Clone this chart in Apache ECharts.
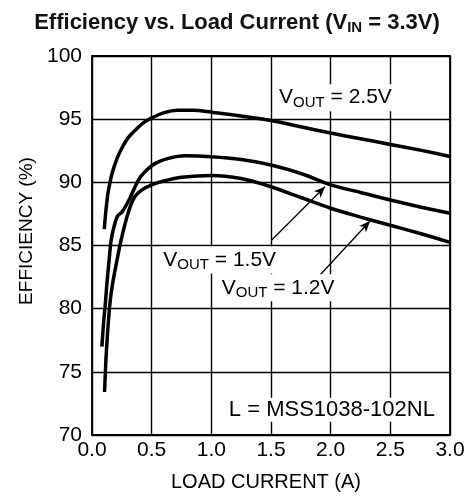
<!DOCTYPE html>
<html>
<head>
<meta charset="utf-8">
<script src="https://cdn.jsdelivr.net/npm/echarts@6/dist/echarts.min.js"></script>
<style>
  html, body { margin: 0; padding: 0; background: #fff; }
  #chart { width: 474px; height: 500px; }
</style>
</head>
<body>
<div id="chart"></div>
<script>
// load current (A) / efficiency (%)
const x25 = [0.103, 0.117, 0.135, 0.165, 0.21, 0.25, 0.30, 0.36, 0.43, 0.50, 0.60, 0.72, 0.85, 1.0, 1.25, 1.5, 1.75, 2.0, 2.25, 2.5, 2.75, 3.0];
const y25 = [86.3, 87.8, 89.2, 90.6, 91.9, 92.7, 93.5, 94.1, 94.7, 95.1, 95.5, 95.7, 95.7, 95.55, 95.25, 94.9, 94.4, 93.9, 93.45, 93.0, 92.55, 92.05];

const x15 = [0.083, 0.097, 0.11, 0.125, 0.144, 0.16, 0.185, 0.213, 0.255, 0.31, 0.39, 0.44, 0.53, 0.64, 0.78, 1.0, 1.25, 1.5, 1.75, 2.0, 2.25, 2.5, 2.75, 3.0];
const y15 = [77.0, 78.9, 80.2, 82.0, 83.9, 85.4, 86.5, 87.3, 87.7, 88.6, 90.2, 90.8, 91.5, 91.9, 92.1, 92.03, 91.8, 91.37, 90.7, 89.8, 89.2, 88.6, 88.05, 87.55];

const x12 = [0.105, 0.117, 0.13, 0.15, 0.173, 0.215, 0.243, 0.30, 0.354, 0.419, 0.5, 0.6, 0.75, 1.0, 1.25, 1.5, 1.75, 2.0, 2.25, 2.5, 2.75, 3.0];
const y12 = [73.4, 76.0, 78.0, 80.4, 82.0, 84.1, 85.4, 87.5, 88.8, 89.4, 89.8, 90.1, 90.4, 90.55, 90.3, 89.65, 88.8, 87.95, 87.25, 86.6, 85.95, 85.25];

const xTicks = [0, 0.5, 1.0, 1.5, 2.0, 2.5, 3.0];
const yTicks = [70, 75, 80, 85, 90, 95, 100];

// annotation text and where it sits (data coords)
const notes = [
  { name: '{v|V}{s|OUT}{v| = 2.5V}', coord: [2.04, 96.7] },
  { name: '{v|V}{s|OUT}{v| = 1.5V}', coord: [1.07, 83.85] },
  { name: '{v|V}{s|OUT}{v| = 1.2V}', coord: [1.56, 81.65] },
  { name: '{l|L = MSS1038-102NL}', coord: [2.01, 72.0] }
];
const arrows = [
  [[1.506, 85.44], [1.953, 89.65]],
  [[1.911, 82.66], [2.33, 86.94]]
];

const zip = (xs, ys) => xs.map((x, i) => [x, ys[i]]);

let chart = echarts.init(document.getElementById('chart'));

let lineStyle = { color: '#000', width: 3.5 };

let option = {
  animation: false,
  title: {
    left: 'center',
    top: 5,
    text: '{b|Efficiency vs. Load Current (V}{s|IN}{b| = 3.3V)}',
    textStyle: {
      rich: {
        b: { fontFamily: 'Liberation Sans', fontWeight: 'bold', fontSize: 22, color: '#111' },
        s: { fontFamily: 'Liberation Sans', fontWeight: 'bold', fontSize: 15, color: '#111', padding: [10, 0, 0, 0] }
      }
    }
  },
  grid: {
    left: 92,
    right: 24,
    top: 56,
    bottom: 65,
    show: true,
    borderColor: '#000',
    borderWidth: 1.8
  },
  xAxis: {
    type: 'value',
    min: xTicks[0],
    max: xTicks[xTicks.length - 1],
    interval: 0.5,
    name: 'LOAD CURRENT (A)',
    nameLocation: 'middle',
    nameGap: 37,
    nameTextStyle: { fontFamily: 'Liberation Sans', fontSize: 20, color: '#000', padding: [0, 10, 0, 0] },
    axisLine: { show: false },
    axisTick: { show: false },
    axisLabel: {
      margin: 5,
      fontFamily: 'Liberation Sans',
      fontSize: 21,
      color: '#000',
      formatter: v => v.toFixed(1)
    },
    splitLine: { lineStyle: { color: '#000', width: 1.4 } }
  },
  yAxis: {
    type: 'value',
    min: yTicks[0],
    max: yTicks[yTicks.length - 1],
    interval: 5,
    name: 'EFFICIENCY (%)',
    nameLocation: 'middle',
    nameGap: 55,
    nameRotate: 90,
    nameTextStyle: { fontFamily: 'Liberation Sans', fontSize: 19, color: '#000', padding: [0, 0, 0, 29] },
    axisLine: { show: false },
    axisTick: { show: false },
    axisLabel: { margin: 10, fontFamily: 'Liberation Sans', fontSize: 21, color: '#000' },
    splitLine: { lineStyle: { color: '#000', width: 1.4 } }
  },
  series: [
    {
      type: 'line',
      data: zip(x25, y25),
      smooth: 0.3,
      symbol: 'none',
      lineStyle: lineStyle,
      markPoint: {
        silent: true,
        symbol: 'circle',
        symbolSize: 1,
        itemStyle: { color: 'rgba(0,0,0,0)' },
        label: {
          show: true,
          position: 'inside',
          backgroundColor: '#fff',
          padding: [1, 2],
          formatter: p => p.name,
          rich: {
            v: { fontFamily: 'Liberation Sans', fontSize: 21, color: '#000' },
            s: { fontFamily: 'Liberation Sans', fontSize: 15, color: '#000', padding: [10, 0, 0, 0] },
            l: { fontFamily: 'Liberation Sans', fontSize: 22, color: '#000' }
          }
        },
        data: notes.map(n => ({ name: n.name, coord: n.coord }))
      },
      markLine: {
        silent: true,
        symbol: ['none', 'arrow'],
        symbolSize: [7, 11],
        lineStyle: { color: '#000', width: 1.3, type: 'solid' },
        label: { show: false },
        data: arrows.map(a => [{ coord: a[0] }, { coord: a[1] }])
      }
    },
    {
      type: 'line',
      data: zip(x15, y15),
      smooth: 0.3,
      symbol: 'none',
      lineStyle: lineStyle
    },
    {
      type: 'line',
      data: zip(x12, y12),
      smooth: 0.3,
      symbol: 'none',
      lineStyle: lineStyle
    }
  ]
};

chart.setOption(option);
</script>
</body>
</html>
